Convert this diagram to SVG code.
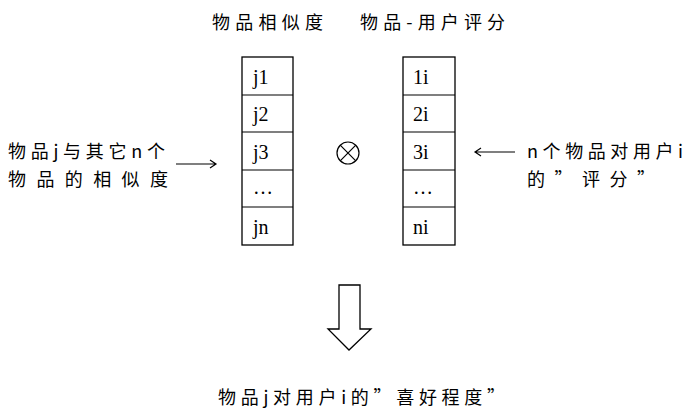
<svg xmlns="http://www.w3.org/2000/svg" width="695" height="420" viewBox="0 0 695 420">
<style>
text{font-family:"Noto Sans CJK SC","Liberation Serif",serif;font-size:18px;fill:#000}
.c{font-family:"Liberation Serif",serif;font-size:20px}
.b{fill:#fff;stroke:#000;stroke-width:1.3}
.l{stroke:#000;stroke-width:1.2;fill:none}
</style>
<rect width="695" height="420" fill="#fff"/>
<text x="212" y="29" textLength="111">物品相似度</text>
<text x="360" y="29" textLength="145">物品-用户评分</text>
<g id="left">
<rect class="b" x="242" y="57" width="51" height="188"/>
<g class="l"><path d="M242 95H293M242 132H293M242 170H293M242 207H293"/></g>
<text class="c" x="253" y="84">j1</text>
<text class="c" x="253" y="121">j2</text>
<text class="c" x="253" y="159">j3</text>
<text class="c" x="253" y="194">…</text>
<text class="c" x="253" y="234">jn</text>
</g>
<g id="right">
<rect class="b" x="403" y="57" width="52" height="188"/>
<g class="l"><path d="M403 95H455M403 132H455M403 170H455M403 207H455"/></g>
<text class="c" x="413" y="84">1i</text>
<text class="c" x="413" y="121">2i</text>
<text class="c" x="413" y="159">3i</text>
<text class="c" x="413" y="194">…</text>
<text class="c" x="413" y="234">ni</text>
</g>
<g id="op" class="l" stroke="#333">
<circle cx="348" cy="153" r="11"/>
<path d="M340.2 145.2L355.8 160.8M355.8 145.2L340.2 160.8"/>
</g>
<text x="8" y="158" textLength="157">物品j与其它n个</text>
<text x="8" y="186" textLength="160">物品的相似度</text>
<text x="527" y="158" textLength="156">n个物品对用户i</text>
<text x="527" y="186" textLength="128">的”评分”</text>
<g id="connectors" class="l">
<path d="M176 164H216M210 160L216 164L210 168"/>
<path d="M515 152H475M481 148L475 152L481 156"/>
<path class="b" d="M339 285H360V329H371L349 350L328 329H339Z"/>
</g>
<text x="218" y="404" textLength="287">物品j对用户i的”喜好程度”</text>
</svg>
